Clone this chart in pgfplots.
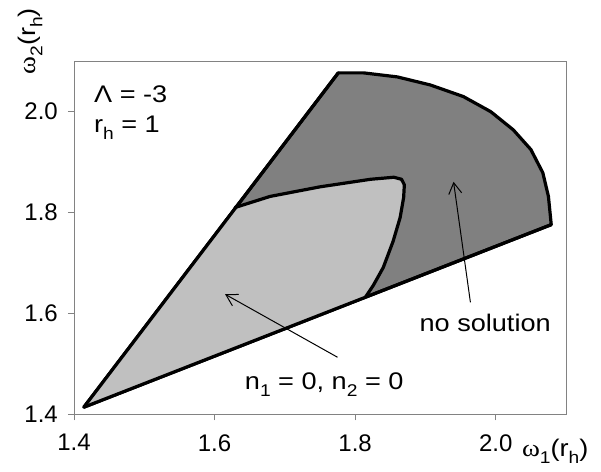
\documentclass[border=0pt]{standalone}
\usepackage{fontspec}
\setmainfont{Liberation Sans}
\newfontfamily\wide[FakeStretch=1.13]{Liberation Sans}
\newfontfamily\greekserif[FakeStretch=1.13]{Liberation Serif}
\usepackage{pgfplots}
\usepackage{pgfplotstable}
\pgfplotsset{compat=1.18}
\usetikzlibrary{arrows.meta}

\definecolor{darkfill}{RGB}{128,128,128}
\definecolor{lightfill}{RGB}{192,192,192}
\definecolor{framegray}{RGB}{130,130,130}

% low, fairly large subscripts as in the original
\newcommand{\sub}[1]{\raisebox{-7pt}{\fontsize{17}{17}\selectfont #1}}

% outer region: straight edges plus the upper arc
\pgfplotstableread{
x y
1.414 1.414
1.776 2.077
1.812 2.077
1.860 2.069
1.907 2.053
1.954 2.030
1.993 2.000
2.025 1.964
2.050 1.925
2.067 1.879
2.075 1.832
2.079 1.776
1.414 1.414
}\outerregion

% inner region (n1 = 0, n2 = 0)
\pgfplotstableread{
x y
1.414 1.414
1.629 1.810
1.679 1.832
1.750 1.851
1.822 1.866
1.855 1.870
1.866 1.866
1.870 1.855
1.869 1.830
1.864 1.790
1.854 1.743
1.840 1.691
1.826 1.656
1.815 1.633
1.414 1.414
}\innerregion

% curved boundary of the inner region
\pgfplotstableread{
x y
1.629 1.810
1.679 1.832
1.750 1.851
1.822 1.866
1.855 1.870
1.866 1.866
1.870 1.855
1.869 1.830
1.864 1.790
1.854 1.743
1.840 1.691
1.826 1.656
1.815 1.633
}\innercurve

\begin{document}
\fontsize{24}{28}\selectfont
\begin{tikzpicture}
\begin{axis}[
    scale only axis,
    width=492pt,
    height=353pt,
    xmin=1.4, xmax=2.1,
    ymin=1.4, ymax=2.1,
    xtick={1.4,1.6,1.8,2.0},
    ytick={1.4,1.6,1.8,2.0},
    tick pos=left,
    tick align=outside,
    major tick length=6pt,
    tick style={framegray, line width=0.9pt},
    axis line style={framegray, line width=0.9pt},
    xticklabel style={/pgf/number format/fixed, /pgf/number format/fixed zerofill, /pgf/number format/precision=1},
    yticklabel style={/pgf/number format/fixed, /pgf/number format/fixed zerofill, /pgf/number format/precision=1},
    /pgf/number format/assume math mode=true,
    tick label style={font=\fontsize{24}{28}\selectfont},
    xticklabel shift=6pt,
    yticklabel shift=2pt,
    xlabel={{\greekserif ω}\sub{1}(r\sub{h})},
    ylabel={{\greekserif ω}\sub{2}(r\sub{h})},
    xlabel style={at={(rel axis cs:0.978,-0.105)}, anchor=center, font=\fontsize{24}{28}\selectfont\wide},
    ylabel style={at={(rel axis cs:-0.089,1.057)}, anchor=center, font=\fontsize{24}{28}\selectfont\wide},
    clip=false,
]

\addplot[fill=darkfill, draw=black, line width=3.2pt, line join=round] table {\outerregion};
\addplot[fill=lightfill, draw=none] table {\innerregion};
\addplot[black, line width=3.2pt, line join=round, line cap=round] table {\innercurve};
\addplot[black, line width=3.2pt, line join=round, line cap=round] coordinates {(1.414,1.414) (1.776,2.077)};
\addplot[black, line width=3.2pt, line join=round, line cap=round] coordinates {(1.414,1.414) (2.079,1.776)};

% annotations
\node[anchor=base west, font=\wide] at (axis cs:1.417,2.018) {Λ = -3};
\node[anchor=base west, font=\wide] at (axis cs:1.417,1.958) {r\sub{h} = 1};
\node[anchor=base, font=\wide] at (axis cs:1.985,1.564) {no solution};
\node[anchor=base, font=\wide] at (axis cs:1.756,1.450) {n\sub{1} = 0, n\sub{2} = 0};
\draw[line width=1pt, -{Straight Barb[length=11pt,width=13pt,line width=1pt]}]
    (axis cs:1.775,1.513) -- (axis cs:1.615,1.638);
\draw[line width=1pt, -{Straight Barb[length=11pt,width=13pt,line width=1pt]}]
    (axis cs:1.964,1.622) -- (axis cs:1.940,1.861);

\coordinate (O) at (rel axis cs:0,0);
\end{axis}
\path (O) ++(-74pt,-55pt) rectangle ++(601pt,465pt);
\end{tikzpicture}
\end{document}
